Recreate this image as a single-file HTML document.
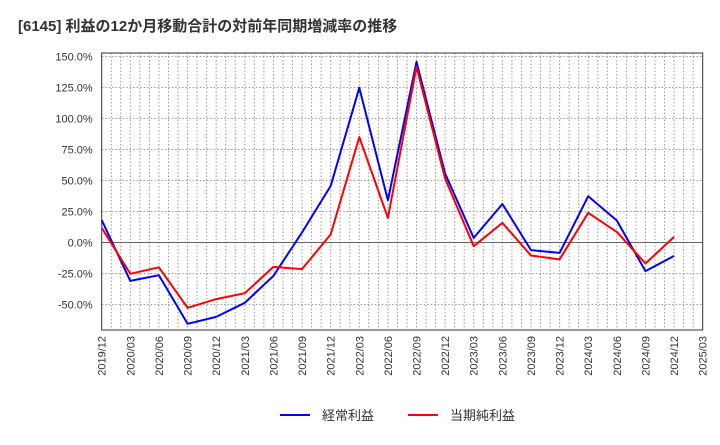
<!DOCTYPE html>
<html><head><meta charset="utf-8"><style>
body{margin:0;background:#fff;}
svg text{font-family:"Liberation Sans","Noto Sans CJK JP",sans-serif;}
</style></head><body>
<svg width="720" height="440" viewBox="0 0 720 440" xmlns="http://www.w3.org/2000/svg">
<text x="18" y="31" font-size="15" font-weight="bold" fill="#333">[6145]  利益の12か月移動合計の対前年同期増減率の推移</text>
<g id="grid"></g><g id="axes"></g><g id="series"></g>
<g>
<line x1="280" y1="415" x2="310" y2="415" stroke="#0000ff" stroke-width="2"/>
<text x="322" y="420" font-size="13" fill="#333">経常利益</text>
<line x1="408" y1="415" x2="438" y2="415" stroke="#ff0000" stroke-width="2"/>
<text x="450" y="420" font-size="13" fill="#333">当期純利益</text>
</g>
</svg>
<script>
const categories=["2019/12","2020/03","2020/06","2020/09","2020/12","2021/03","2021/06","2021/09","2021/12","2022/03","2022/06","2022/09","2022/12","2023/03","2023/06","2023/09","2023/12","2024/03","2024/06","2024/09","2024/12","2025/03"];
const ordinaryProfit=[18,-31,-26.4,-65.6,-60,-48.7,-27,8,45.6,124.7,34,145.6,55.6,3.7,31,-6.2,-8.4,37.3,17.7,-23.1,-10.8];
const netProfit=[11.8,-25.3,-20,-52.7,-45.7,-40.9,-19.7,-21.5,6.5,85,19.8,141.6,51.6,-3,15.8,-10.5,-13.7,23.9,8.5,-17,4.5];
const yTicks=[-50,-25,0,25,50,75,100,125,150];
const L=101.7,R=702.7,T=53,B=330;
const yMin=-70.6,yMax=152.8;
function xs(i){return L+(R-L)*i/(categories.length-1);}
function ys(v){return B-(v-yMin)/(yMax-yMin)*(B-T);}
const NS="http://www.w3.org/2000/svg";
function mk(tag,attrs,parent){const e=document.createElementNS(NS,tag);for(const k in attrs)e.setAttribute(k,attrs[k]);parent.appendChild(e);return e;}
const grid=document.getElementById('grid'),axes=document.getElementById('axes'),series=document.getElementById('series');
// monthly vertical grid
const months=(categories.length-1)*3;
for(let m=1;m<months;m++){const x=L+(R-L)*m/months;
const g=mk('line',{x1:x,y1:T,x2:x,y2:B,stroke:'#999','stroke-width':1,'stroke-dasharray':'1.5,2'},grid);

}
yTicks.forEach(v=>{const y=ys(v);
const g=mk('line',{x1:L,y1:y,x2:R,y2:y,stroke:v===0?'#666':'#999','stroke-width':1,'stroke-dasharray':v===0?'':'1.5,2'},grid);


const t=mk('text',{x:L-9,y:y+4,'font-size':11,'text-anchor':'end',fill:'#333'},axes);
t.textContent=v.toFixed(1)+'%';

});
const frame=mk('rect',{x:L,y:T,width:R-L,height:B-T,fill:'none',stroke:'#333','stroke-width':1},axes);


categories.forEach((c,i)=>{const x=xs(i);
const t=mk('text',{x:0,y:0,'font-size':11,'text-anchor':'end',fill:'#333',transform:`translate(${x+4},${B+6}) rotate(-90)`},axes);
t.textContent=c;

});
function line(data,color,name){const pts=data.map((v,i)=>xs(i).toFixed(1)+','+ys(v).toFixed(1)).join(' ');
const p=mk('polyline',{points:pts,fill:'none',stroke:color,'stroke-width':2,'stroke-linejoin':'round'},series);

}
line(ordinaryProfit,'#0000ff','ordinary-profit-line');
line(netProfit,'#ff0000','net-profit-line');
</script>
</body></html>
